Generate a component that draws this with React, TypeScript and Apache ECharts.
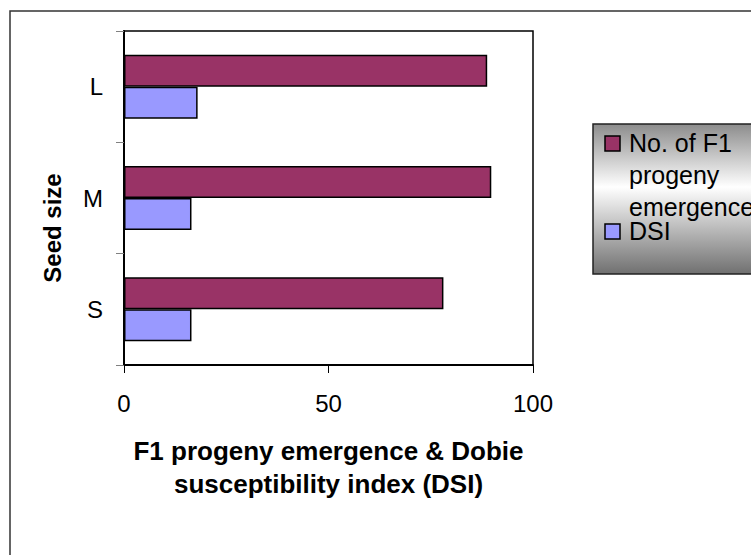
import React, { useEffect, useRef } from "react";
import * as echarts from "echarts";

// Seed size classes, listed bottom to top on the category axis
const seedSizes = ["S", "M", "L"];

// No. of F1 progeny emergence per seed size
const progenyEmergence = [78.1, 89.8, 88.8];

// Dobie susceptibility index per seed size
const dsiValues = [16.5, 16.5, 18.0];

const xTicks = { min: 0, max: 100, interval: 50 };

const seriesNames = ["No. of F1\nprogeny\nemergence", "DSI"];
const seriesColors = ["#993366", "#9999FF"];

const FONT = "Liberation Sans, Arial, sans-serif";

export default function App() {
  const ref = useRef<HTMLDivElement>(null);

  useEffect(() => {
    if (!ref.current) return;
    const chart = echarts.init(ref.current, null, { renderer: "svg" });

    const legendX = 593;
    const legendY = 124;

    chart.setOption({
      animation: false,
      backgroundColor: "#ffffff",
      grid: {
        left: 124,
        right: 751 - 533,
        top: 31,
        bottom: 555 - 365,
        show: true,
        borderColor: "#000000",
        borderWidth: 1.5,
        backgroundColor: "transparent",
      },
      xAxis: {
        type: "value",
        min: xTicks.min,
        max: xTicks.max,
        interval: xTicks.interval,
        name: "F1 progeny emergence & Dobie\nsusceptibility index (DSI)",
        nameLocation: "middle",
        nameGap: 69,
        nameTextStyle: {
          fontFamily: FONT,
          fontWeight: "bold",
          fontSize: 26,
          color: "#000",
          lineHeight: 33,
        },
        axisLine: { show: true, lineStyle: { color: "#000", width: 2 } },
        axisTick: { show: true, length: 8, lineStyle: { color: "#000", width: 1 } },
        axisLabel: { fontFamily: FONT, fontSize: 24, color: "#000", margin: 26 },
        splitLine: { show: false },
      },
      yAxis: {
        type: "category",
        data: seedSizes,
        name: "Seed size",
        nameLocation: "middle",
        nameGap: 60,
        nameTextStyle: {
          fontFamily: FONT,
          fontWeight: "bold",
          fontSize: 24,
          color: "#000",
          padding: [0, 60, 0, 0],
        },
        axisLine: { show: true, lineStyle: { color: "#000", width: 2 } },
        axisTick: { show: true, length: 8, lineStyle: { color: "#808080", width: 1 } },
        axisLabel: { fontFamily: FONT, fontSize: 24, color: "#000", margin: 21 },
      },
      series: [
        {
          name: seriesNames[0],
          type: "bar",
          data: progenyEmergence,
          barWidth: 32,
          barGap: "0%",
          itemStyle: { color: seriesColors[0], borderColor: "#000", borderWidth: 1.5 },
        },
        {
          name: seriesNames[1],
          type: "bar",
          data: dsiValues,
          barWidth: 32,
          barGap: "0%",
          itemStyle: { color: seriesColors[1], borderColor: "#000", borderWidth: 1.5 },
        },
      ],
      graphic: [
        // outer chart-area frame
        {
          type: "rect",
          shape: { x: 10, y: 11, width: 800, height: 600 },
          style: { fill: "none", stroke: "#333", lineWidth: 1.5 },
          silent: true,
          z: 0,
        },
        // legend box
        {
          type: "group",
          x: legendX,
          y: legendY,
          children: [
            {
              type: "rect",
              shape: { x: 0, y: 0, width: 200, height: 150 },
              style: {
                fill: new echarts.graphic.LinearGradient(0, 0, 0, 1, [
                  { offset: 0, color: "#8c8c8c" },
                  { offset: 0.42, color: "#ffffff" },
                  { offset: 1, color: "#707070" },
                ]),
                stroke: "#222",
                lineWidth: 1.5,
              },
            },
            {
              type: "rect",
              shape: { x: 12, y: 12, width: 15, height: 15 },
              style: { fill: seriesColors[0], stroke: "#000", lineWidth: 1.5 },
            },
            {
              type: "text",
              x: 36,
              y: 3,
              style: {
                text: seriesNames[0],
                fontFamily: FONT,
                fontSize: 25,
                lineHeight: 32,
                fill: "#000",
              },
            },
            {
              type: "rect",
              shape: { x: 12, y: 100, width: 15, height: 15 },
              style: { fill: seriesColors[1], stroke: "#000", lineWidth: 1.5 },
            },
            {
              type: "text",
              x: 36,
              y: 91,
              style: {
                text: seriesNames[1],
                fontFamily: FONT,
                fontSize: 25,
                lineHeight: 32,
                fill: "#000",
              },
            },
          ],
        },
      ],
    });

    return () => chart.dispose();
  }, []);

  return (
    <div
      ref={ref}
      style={{ position: "absolute", left: 0, top: 0, width: 751, height: 555 }}
    />
  );
}
